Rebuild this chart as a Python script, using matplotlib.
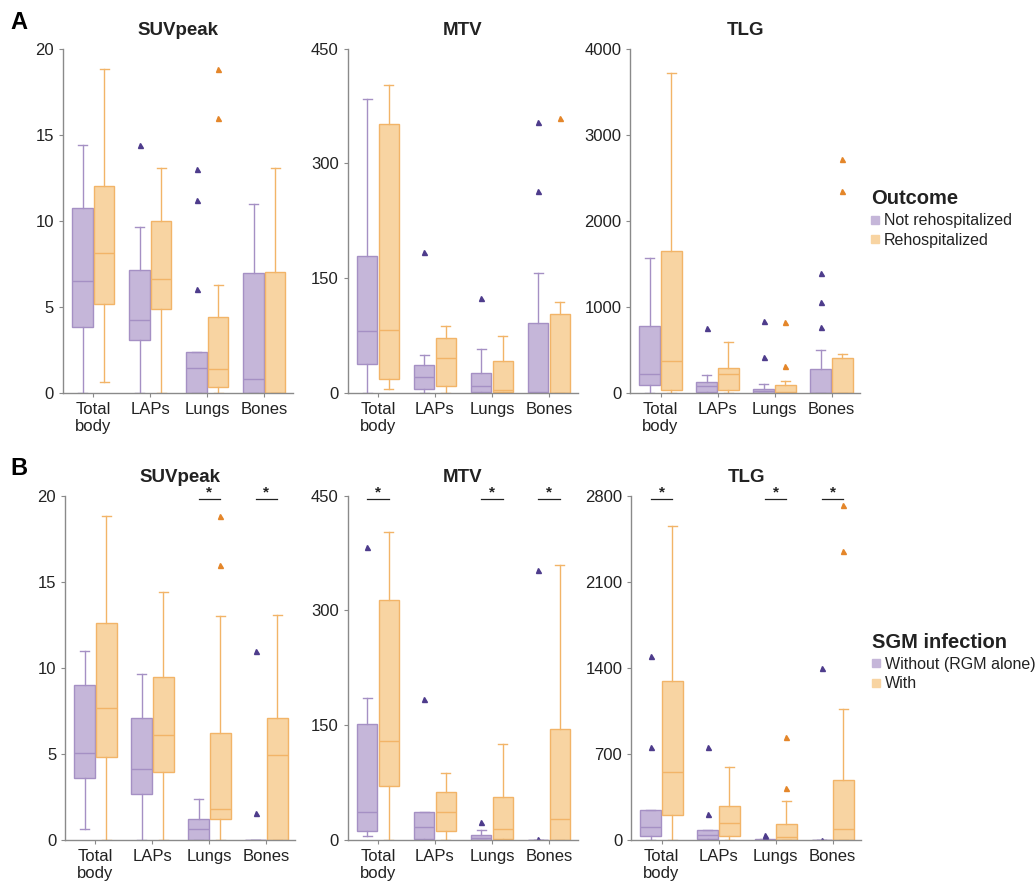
import matplotlib
matplotlib.use('Agg')
import matplotlib.pyplot as plt
from matplotlib.lines import Line2D

plt.rcParams['font.family'] = ['Liberation Sans', 'DejaVu Sans']

categories = ['Total\nbody', 'LAPs', 'Lungs', 'Bones']

# box stats per region: (whislo, q1, med, q3, whishi, fliers)
# ---- A: outcome ----
a_suv_not = [(0, 3.84, 6.53, 10.76, 14.4, []),
             (0, 3.1, 4.26, 7.15, 9.65, [14.4]),
             (0, 0, 1.45, 2.38, 2.38, [13.0, 11.22, 6.05]),
             (0, 0, 0.8, 6.96, 11.0, [])]
a_suv_reh = [(0.62, 5.14, 8.14, 12.05, 18.84, []),
             (0, 4.88, 6.63, 10.0, 13.06, []),
             (0, 0.33, 1.4, 4.42, 6.26, [18.84, 15.97]),
             (0, 0, 0, 7.03, 13.06, [])]
a_mtv_not = [(0, 37.5, 80.7, 179, 384, []),
             (0, 5.2, 20.9, 36.6, 49.7, [184.5]),
             (0, 1, 8.7, 26.2, 58, [124.7]),
             (0, 0, 1, 91.6, 157, [353.7, 263.8])]
a_mtv_reh = [(5.2, 18.3, 82.4, 352, 402, []),
             (0, 8.7, 45.4, 71.5, 87.7, []),
             (0, 1, 4.4, 41.9, 74, []),
             (0, 0, 0, 103.4, 118.6, [359])]
a_tlg_not = [(0, 89, 225, 779, 1573, []),
             (0, 16, 78, 132, 209, [756]),
             (0, 0, 23, 50, 101, [837, 419]),
             (0, 0, 0, 283, 500, [1395, 1054, 764])]
a_tlg_reh = [(0, 39, 376, 1655, 3721, []),
             (0, 39, 225, 295, 593, []),
             (0, 0, 16, 97, 140, [829, 314]),
             (0, 0, 0, 407, 453, [2721, 2349])]

# ---- B: SGM infection ----
b_suv_without = [(0.64, 3.62, 5.02, 8.99, 10.99, []),
                 (0, 2.67, 4.11, 7.09, 9.65, []),
                 (0, 0, 0.64, 1.22, 2.4, []),
                 (0, 0, 0, 0, 0, [10.99, 1.57])]
b_suv_with = [(0, 4.79, 7.66, 12.58, 18.84, []),
              (0, 3.93, 6.09, 9.44, 14.4, []),
              (0, 1.22, 1.8, 6.2, 13.0, [18.84, 15.97]),
              (0, 0, 4.92, 7.09, 13.08, [])]
b_mtv_without = [(4.4, 12.2, 35.8, 151.8, 184.9, [383]),
                 (0, 1.7, 16.6, 36.6, 36.6, [184]),
                 (0, 0, 3, 6.5, 13.1, [22.7]),
                 (0, 0, 0, 0, 0, [353, 1.7])]
b_mtv_with = [(0, 71, 128.6, 314, 402, []),
              (0, 11.8, 35.8, 63.2, 88, []),
              (0, 1.7, 14, 56.3, 124.7, []),
              (0, 0, 27.5, 144.4, 359, [])]
b_tlg_without = [(0, 35, 103, 244, 244, [1498, 754]),
                 (0, 11, 38, 81, 81, [754, 212]),
                 (0, 0, 0, 5, 5, [38, 22]),
                 (0, 0, 0, 0, 0, [1397, 0])]
b_tlg_with = [(0, 201, 548, 1294, 2556, []),
              (0, 35, 136, 277, 591, []),
              (0, 0, 22, 130, 315, [836, 423]),
              (0, 0, 87, 486, 1063, [2721, 2347])]

# significant comparisons (category index)
b_suv_sig = [2, 3]
b_mtv_sig = [0, 2, 3]
b_tlg_sig = [0, 2, 3]

PUR_FILL, PUR_EDGE, PUR_DOT = '#c5b6d9', '#a590c4', '#4e3c8c'
ORA_FILL, ORA_EDGE, ORA_DOT = '#f8d4a2', '#f2b468', '#e4862a'
AX_COL = '#8a8a8a'
TXT = '#222222'


def to_stats(rows):
    out = []
    for lo, q1, med, q3, hi, fl in rows:
        out.append(dict(whislo=lo, q1=q1, med=med, q3=q3, whishi=hi, fliers=fl))
    return out


def draw_boxes(ax, rows, pos, fill, edge, dot):
    ax.bxp(to_stats(rows), positions=pos, widths=0.36, patch_artist=True,
           showfliers=True,
           boxprops=dict(facecolor=fill, edgecolor=edge, linewidth=1.0),
           medianprops=dict(color=edge, linewidth=1.0),
           whiskerprops=dict(color=edge, linewidth=1.0),
           capprops=dict(color=edge, linewidth=1.0),
           capwidths=0.16,
           flierprops=dict(marker='^', markersize=3.6, markerfacecolor=dot,
                           markeredgecolor=dot, linestyle='none'))


def panel(ax, g1, g2, title, ymax, yticks, sig=()):
    pos1 = [i + 1 - 0.19 for i in range(4)]
    pos2 = [i + 1 + 0.19 for i in range(4)]
    draw_boxes(ax, g1, pos1, PUR_FILL, PUR_EDGE, PUR_DOT)
    draw_boxes(ax, g2, pos2, ORA_FILL, ORA_EDGE, ORA_DOT)
    ax.set_xlim(0.47, 4.5)
    ax.set_ylim(0, ymax)
    ax.set_xticks([1, 2, 3, 4])
    ax.set_xticklabels(categories, fontsize=12, color=TXT)
    ax.set_yticks(yticks)
    ax.set_yticklabels([str(t) for t in yticks], fontsize=12, color=TXT)
    ax.tick_params(axis='both', length=3, color=AX_COL, width=0.8)
    for s in ['top', 'right']:
        ax.spines[s].set_visible(False)
    for s in ['left', 'bottom']:
        ax.spines[s].set_color(AX_COL)
        ax.spines[s].set_linewidth(1.0)
    ax.set_title(title, fontsize=13.5, fontweight='bold', color=TXT, pad=10)
    for i in sig:
        y = ymax * 0.99
        ax.plot([pos1[i], pos2[i]], [y, y], color='#222222', lw=0.9, clip_on=False)
        ax.text(i + 1, y, '*', ha='center', va='bottom', fontsize=11,
                fontweight='bold', color=TXT)


fig = plt.figure(figsize=(10.35, 8.85), dpi=100)
fig.patch.set_facecolor('white')

top_b, h = 0.556, 0.389
bot_b = 0.051
ax_a1 = fig.add_axes([0.061, top_b, 0.222, h])
ax_a2 = fig.add_axes([0.336, top_b, 0.222, h])
ax_a3 = fig.add_axes([0.609, top_b, 0.222, h])
ax_b1 = fig.add_axes([0.063, bot_b, 0.222, h])
ax_b2 = fig.add_axes([0.336, bot_b, 0.222, h])
ax_b3 = fig.add_axes([0.610, bot_b, 0.222, h])

panel(ax_a1, a_suv_not, a_suv_reh, 'SUVpeak', 20, [0, 5, 10, 15, 20])
panel(ax_a2, a_mtv_not, a_mtv_reh, 'MTV', 450, [0, 150, 300, 450])
panel(ax_a3, a_tlg_not, a_tlg_reh, 'TLG', 4000, [0, 1000, 2000, 3000, 4000])
panel(ax_b1, b_suv_without, b_suv_with, 'SUVpeak', 20, [0, 5, 10, 15, 20], b_suv_sig)
panel(ax_b2, b_mtv_without, b_mtv_with, 'MTV', 450, [0, 150, 300, 450], b_mtv_sig)
panel(ax_b3, b_tlg_without, b_tlg_with, 'TLG', 2800, [0, 700, 1400, 2100, 2800], b_tlg_sig)

fig.text(0.010, 0.975, 'A', fontsize=17, fontweight='bold', color='black', va='center')
fig.text(0.010, 0.471, 'B', fontsize=17, fontweight='bold', color='black', va='center')


def legend(ax, title, labels, ypos):
    handles = [Line2D([], [], marker='s', linestyle='none', markersize=6,
                      markerfacecolor=PUR_FILL, markeredgecolor=PUR_FILL),
               Line2D([], [], marker='s', linestyle='none', markersize=6,
                      markerfacecolor=ORA_FILL, markeredgecolor=ORA_FILL)]
    leg = ax.legend(handles, labels, title=title, loc='upper left',
                    bbox_to_anchor=(1.02, ypos), frameon=False,
                    fontsize=11.5, handlelength=0.5, handletextpad=0.3,
                    labelspacing=0.3, borderaxespad=0)
    leg.get_title().set_fontweight('bold')
    leg.get_title().set_fontsize(14.5)
    leg.get_title().set_color(TXT)
    leg._legend_box.align = 'left'
    for t in leg.get_texts():
        t.set_color(TXT)


legend(ax_a3, 'Outcome', ['Not rehospitalized', 'Rehospitalized'], 0.61)
legend(ax_b3, 'SGM infection', ['Without (RGM alone)', 'With'], 0.62)

fig.savefig('out.png', dpi=100)
